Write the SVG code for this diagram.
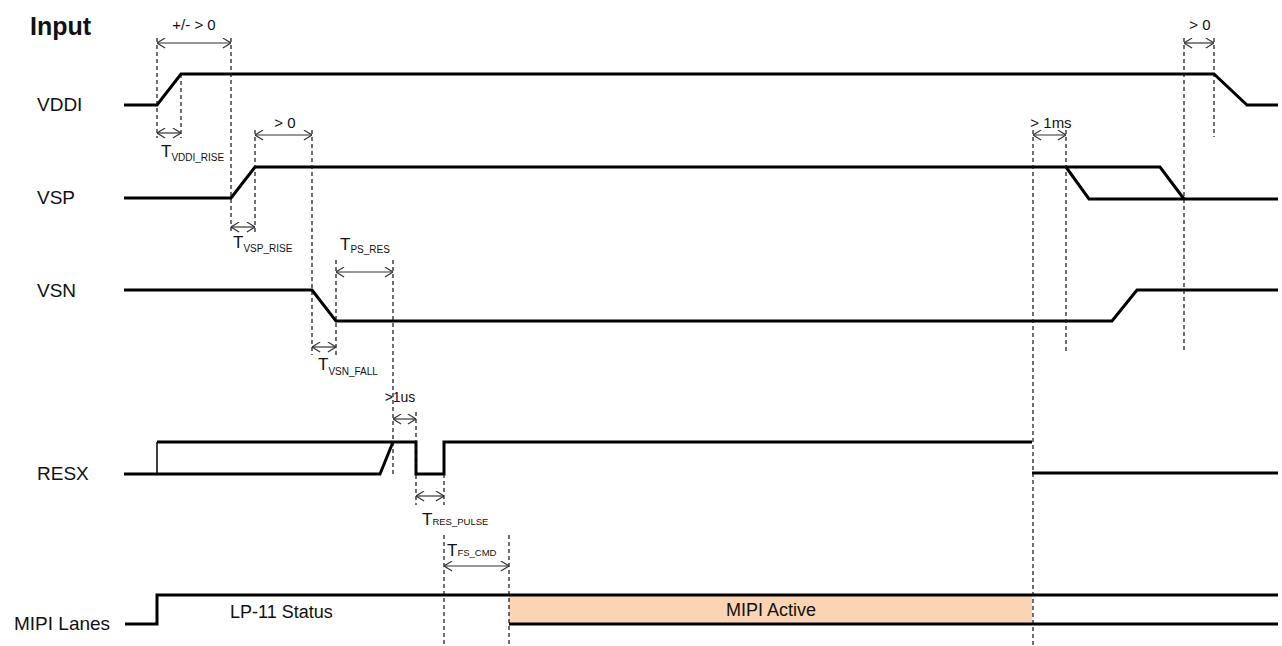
<svg xmlns="http://www.w3.org/2000/svg" width="1282" height="646" viewBox="0 0 1282 646">
<style>
text{font-family:"Liberation Sans",Arial,sans-serif;fill:#111}
.lbl{font-size:19px}
.ann{font-size:15px}
.T{font-size:17px}
.sub{font-size:10px}
.sig{fill:none;stroke:#000;stroke-width:3;stroke-linejoin:miter}
.dash{fill:none;stroke:#111;stroke-width:1.2;stroke-dasharray:4 3}
.arr{fill:none;stroke:#333;stroke-width:1.2;marker-start:url(#ah);marker-end:url(#ah)}
</style>
<defs>
<marker id="ah" viewBox="0 0 10 12" refX="10" refY="6" markerWidth="9" markerHeight="11" markerUnits="userSpaceOnUse" orient="auto-start-reverse">
<path d="M1,0.5 L10,6 L1,11.5" fill="none" stroke="#333" stroke-width="1.3"/>
</marker>
</defs>
<rect width="1282" height="646" fill="#fff"/>
<g id="title"><text x="30" y="35" style="font-size:25px;font-weight:bold">Input</text></g>
<g id="labels">
<text class="lbl" x="37" y="111">VDDI</text>
<text class="lbl" x="37" y="204">VSP</text>
<text class="lbl" x="37" y="297">VSN</text>
<text class="lbl" x="37" y="480">RESX</text>
<text class="lbl" x="14" y="630">MIPI Lanes</text>
</g>
<g id="mipi-active-box"><rect x="509" y="595" width="523" height="29" fill="#FBD4B4"/>
<text x="771" y="616" text-anchor="middle" style="font-size:18px">MIPI Active</text></g>
<g id="lp11"><text x="230" y="618" style="font-size:18px">LP-11 Status</text></g>
<g id="signal-VDDI"><path class="sig" d="M124,105 H157 L181,74 H1214 L1247,105 H1278"/></g>
<g id="signal-VSP"><path class="sig" d="M124,198 H231 L255,167 H1066 L1089,199 H1278"/><path class="sig" d="M1066,167 H1160 L1184,199"/></g>
<g id="signal-VSN"><path class="sig" d="M124,290 H312 L336,321 H1112 L1137,290 H1278"/></g>
<g id="signal-RESX"><path class="sig" d="M124,474 H380 L393,442"/><path class="sig" d="M157,442 H416 V474 H444 V442 H1032"/><path class="sig" d="M1032,473 H1278"/><path d="M157,474 V442" stroke="#000" stroke-width="1.5"/></g>
<g id="signal-MIPI"><path class="sig" d="M125,624 H157 V595 H1278"/><path class="sig" d="M509,624 H1278"/></g>
<g id="connectors">
<path class="dash" d="M157,38 V138 M181,74 V138 M231,38 V232 M255,130 V232 M312,130 V355 M336,260 V355 M393,260 V475 M416,412 V505 M444,474 V505 M444,535 V646 M509,535 V646 M1033,130 V646 M1066,130 V352 M1184,38 V352 M1214,38 V137"/>
<path class="arr" d="M157,43 H231"/>
<path class="arr" d="M157,133 H181"/>
<path class="arr" d="M255,135 H312"/>
<path class="arr" d="M231,227 H255"/>
<path class="arr" d="M336,272 H393"/>
<path class="arr" d="M312,347 H336"/>
<path class="arr" d="M393,419 H416"/>
<path class="arr" d="M416,496 H444"/>
<path class="arr" d="M444,566 H509"/>
<path class="arr" d="M1033,135 H1066"/>
<path class="arr" d="M1184,43 H1214"/>
</g>
<g id="annotations">
<text class="ann" x="194" y="30" text-anchor="middle">+/- &gt; 0</text>
<text class="ann" x="285" y="128" text-anchor="middle">&gt; 0</text>
<text class="ann" x="400" y="402" text-anchor="middle" style="font-size:14px">&gt;1us</text>
<text class="ann" x="1051" y="128" text-anchor="middle">&gt; 1ms</text>
<text class="ann" x="1200" y="30" text-anchor="middle">&gt; 0</text>
<text x="161" y="157"><tspan class="T">T</tspan><tspan class="sub" dy="4">VDDI_RISE</tspan></text>
<text x="233" y="248"><tspan class="T">T</tspan><tspan class="sub" dy="4">VSP_RISE</tspan></text>
<text x="340" y="250"><tspan class="T">T</tspan><tspan class="sub" dy="3">PS_RES</tspan></text>
<text x="318" y="370"><tspan class="T">T</tspan><tspan class="sub" dy="5">VSN_FALL</tspan></text>
<text x="422" y="525"><tspan class="T">T</tspan><tspan class="sub" style="font-size:9.5px">RES_PULSE</tspan></text>
<text x="447" y="556"><tspan class="T">T</tspan><tspan class="sub" style="font-size:9.5px">FS_CMD</tspan></text>
</g>
</svg>
